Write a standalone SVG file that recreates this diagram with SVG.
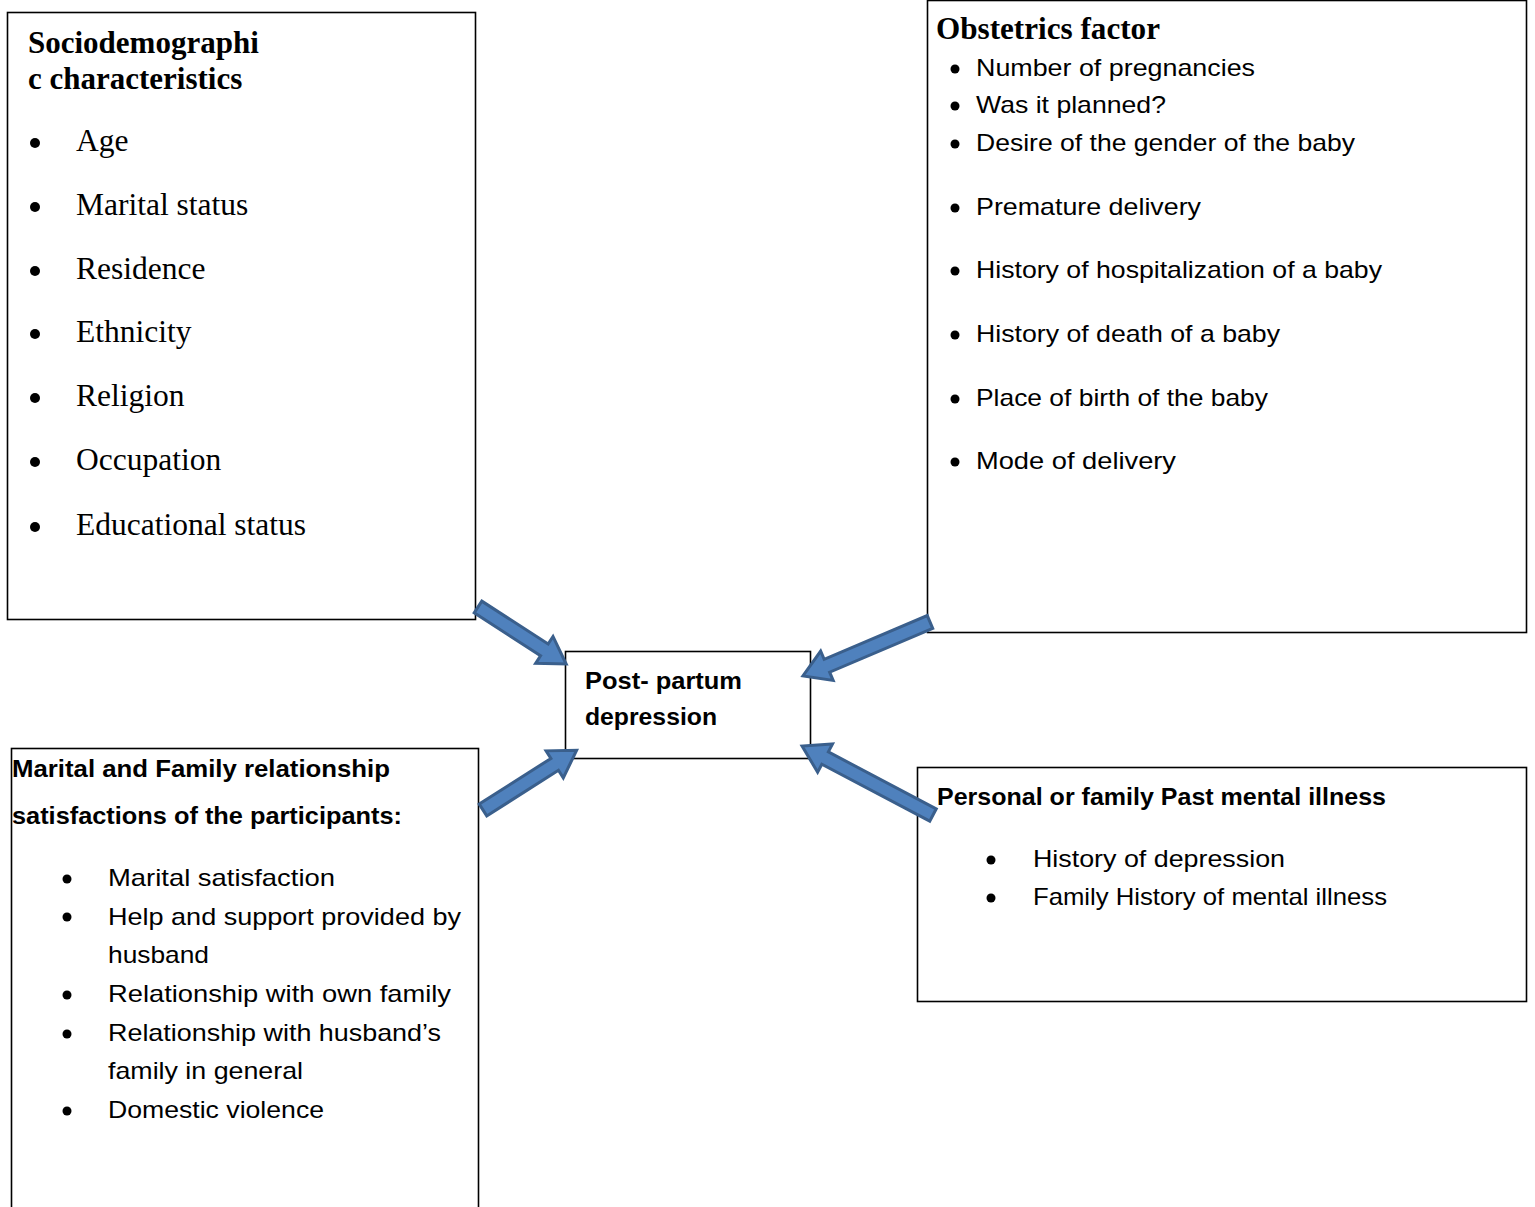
<svg xmlns="http://www.w3.org/2000/svg" width="1535" height="1207" viewBox="0 0 1535 1207">
<style>
.box{fill:#fff;stroke:#000;stroke-width:1.6}
.ser{font-family:"Liberation Serif","Times New Roman",serif;font-size:31.5px;fill:#000}
.serb{font-family:"Liberation Serif","Times New Roman",serif;font-size:31px;font-weight:bold;fill:#000}
.cal{font-family:"Liberation Sans",Arial,sans-serif;font-size:24px;fill:#000}
.calb{font-family:"Liberation Sans",Arial,sans-serif;font-size:24px;font-weight:bold;fill:#000}
.arrow{fill:#4F81BD;stroke:#3A5F8C;stroke-width:3;stroke-linejoin:miter}
</style>
<defs>
<circle id="dot" r="5" fill="#000"/>
<circle id="sdot" r="4.5" fill="#000"/>
</defs>
<rect width="1535" height="1207" fill="#fff"/>

<g id="socio">
<rect class="box" x="7.5" y="12.5" width="468" height="607"/>
<text class="serb" x="28" y="53">Sociodemographi</text>
<text class="serb" x="28" y="89">c characteristics</text>
<use href="#dot" x="35" y="143"/><text class="ser" x="76" y="151">Age</text>
<use href="#dot" x="35" y="207"/><text class="ser" x="76" y="215">Marital status</text>
<use href="#dot" x="35" y="271"/><text class="ser" x="76" y="279">Residence</text>
<use href="#dot" x="35" y="334"/><text class="ser" x="76" y="342">Ethnicity</text>
<use href="#dot" x="35" y="398"/><text class="ser" x="76" y="406">Religion</text>
<use href="#dot" x="35" y="462"/><text class="ser" x="76" y="470">Occupation</text>
<use href="#dot" x="35" y="527"/><text class="ser" x="76" y="535">Educational status</text>
</g>

<g id="obstetrics">
<rect class="box" x="927.5" y="0.5" width="599" height="632"/>
<text class="serb" x="936" y="39" textLength="224" lengthAdjust="spacingAndGlyphs">Obstetrics factor</text>
<use href="#sdot" x="955" y="69"/><text class="cal" x="976" y="76" textLength="279" lengthAdjust="spacingAndGlyphs">Number of pregnancies</text>
<use href="#sdot" x="955" y="106"/><text class="cal" x="976" y="113" textLength="190" lengthAdjust="spacingAndGlyphs">Was it planned?</text>
<use href="#sdot" x="955" y="144"/><text class="cal" x="976" y="151" textLength="379" lengthAdjust="spacingAndGlyphs">Desire of the gender of the baby</text>
<use href="#sdot" x="955" y="208"/><text class="cal" x="976" y="215" textLength="225" lengthAdjust="spacingAndGlyphs">Premature delivery</text>
<use href="#sdot" x="955" y="271"/><text class="cal" x="976" y="278" textLength="406" lengthAdjust="spacingAndGlyphs">History of hospitalization of a baby</text>
<use href="#sdot" x="955" y="335"/><text class="cal" x="976" y="342" textLength="304" lengthAdjust="spacingAndGlyphs">History of death of a baby</text>
<use href="#sdot" x="955" y="399"/><text class="cal" x="976" y="406" textLength="292" lengthAdjust="spacingAndGlyphs">Place of birth of the baby</text>
<use href="#sdot" x="955" y="462"/><text class="cal" x="976" y="469" textLength="200" lengthAdjust="spacingAndGlyphs">Mode of delivery</text>
</g>

<g id="ppd">
<rect class="box" x="565.5" y="651.5" width="245" height="107"/>
<text class="calb" x="585" y="689" textLength="157" lengthAdjust="spacingAndGlyphs">Post- partum</text>
<text class="calb" x="585" y="725" textLength="132" lengthAdjust="spacingAndGlyphs">depression</text>
</g>

<g id="marital">
<rect class="box" x="11.5" y="748.5" width="467" height="470"/>
<text class="calb" x="12" y="777" textLength="378" lengthAdjust="spacingAndGlyphs">Marital and Family relationship</text>
<text class="calb" x="12" y="824" textLength="390" lengthAdjust="spacingAndGlyphs">satisfactions of the participants:</text>
<use href="#sdot" x="67" y="879"/><text class="cal" x="108" y="886" textLength="227" lengthAdjust="spacingAndGlyphs">Marital satisfaction</text>
<use href="#sdot" x="67" y="917"/><text class="cal" x="108" y="925" textLength="353" lengthAdjust="spacingAndGlyphs">Help and support provided by</text>
<text class="cal" x="108" y="963" textLength="101" lengthAdjust="spacingAndGlyphs">husband</text>
<use href="#sdot" x="67" y="995"/><text class="cal" x="108" y="1002" textLength="343" lengthAdjust="spacingAndGlyphs">Relationship with own family</text>
<use href="#sdot" x="67" y="1034"/><text class="cal" x="108" y="1041" textLength="333" lengthAdjust="spacingAndGlyphs">Relationship with husband’s</text>
<text class="cal" x="108" y="1079" textLength="195" lengthAdjust="spacingAndGlyphs">family in general</text>
<use href="#sdot" x="67" y="1111"/><text class="cal" x="108" y="1118" textLength="216" lengthAdjust="spacingAndGlyphs">Domestic violence</text>
</g>

<g id="mental">
<rect class="box" x="917.5" y="767.5" width="609" height="234"/>
<text class="calb" x="937" y="805" textLength="449" lengthAdjust="spacingAndGlyphs">Personal or family Past mental illness</text>
<use href="#sdot" x="991" y="860"/><text class="cal" x="1033" y="867" textLength="252" lengthAdjust="spacingAndGlyphs">History of depression</text>
<use href="#sdot" x="991" y="898"/><text class="cal" x="1033" y="905" textLength="354" lengthAdjust="spacingAndGlyphs">Family History of mental illness</text>
</g>

<g id="connectors">
<path class="arrow" transform="translate(478,607) rotate(32.9)" d="M0,-7 L79,-7 L79,-16 L105,0 L79,16 L79,7 L0,7 Z"/>
<path class="arrow" transform="translate(930,622) rotate(157)" d="M0,-7 L112,-7 L112,-16 L138,0 L112,16 L112,7 L0,7 Z"/>
<path class="arrow" transform="translate(483,810) rotate(-32.5)" d="M0,-7 L85,-7 L85,-16 L111,0 L85,16 L85,7 L0,7 Z"/>
<path class="arrow" transform="translate(933,815) rotate(-152.2)" d="M0,-7 L122,-7 L122,-16 L148,0 L122,16 L122,7 L0,7 Z"/>
</g>
</svg>
